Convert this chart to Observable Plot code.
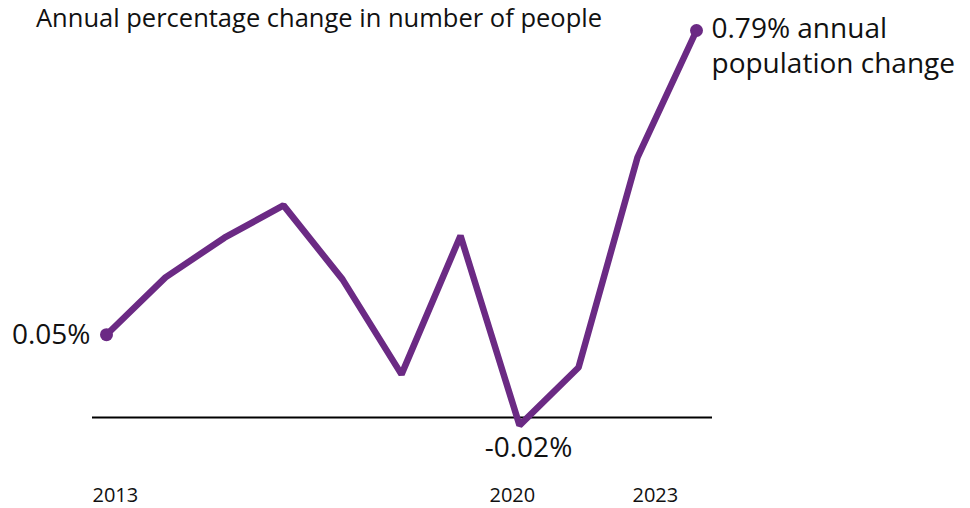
<!DOCTYPE html>
<html>
<head>
<meta charset="utf-8">
<script src="https://cdn.jsdelivr.net/npm/d3@7"></script>
<script src="https://cdn.jsdelivr.net/npm/@observablehq/plot@0.6"></script>
<style>
  html, body { margin: 0; padding: 0; background: #fff; }
  #wrap { position: relative; width: 970px; height: 508px; font-family: "Open Sans", sans-serif; }
  #title { position: absolute; left: 36px; top: 5px; font-size: 25.5px; line-height: 1; color: #111; white-space: nowrap; z-index: 2; }
</style>
</head>
<body>
<div id="wrap">
  <div id="title">Annual percentage change in number of people</div>
  <div id="chart"></div>
</div>
<script>
const years = [2013, 2014, 2015, 2016, 2017, 2018, 2019, 2020, 2021, 2022, 2023];
const change = [0.169, 0.286, 0.367, 0.433, 0.282, 0.088, 0.371, -0.016, 0.102, 0.531, 0.79];
const tickYears = [2013, 2020, 2023];
const tickLabels = ["2013", "2020", "2023"];
const startLabel = "0.05%";
const minLabel = "-0.02%";
const endLabel = "0.79% annual\npopulation change";

const data = years.map((y, i) => ({year: y, value: change[i]}));
const first = data[0];
const last = data[data.length - 1];
const minPt = data.reduce((a, b) => (b.value < a.value ? b : a));
const ticks = tickYears.map((y, i) => ({year: y, label: tickLabels[i]}));

const color = "#6b2a84";
const font = "Open Sans, sans-serif";

const plot = Plot.plot({
  width: 970,
  height: 508,
  marginLeft: 106,
  marginRight: 274,
  marginTop: 30,
  marginBottom: 91,
  x: {domain: [2013, 2023], axis: null},
  y: {domain: [0, 0.79], axis: null},
  style: {fontFamily: font, color: "#111", background: "#fff", overflow: "visible"},
  marks: [
    Plot.ruleY([0], {stroke: "#000", strokeWidth: 2, insetLeft: -14, insetRight: -16}),
    Plot.line(data, {x: "year", y: "value", stroke: color, strokeWidth: 6.5, strokeLinejoin: "miter", strokeLinecap: "butt"}),
    Plot.dot([first, last], {x: "year", y: "value", r: 6.5, fill: color}),
    Plot.text([first], {x: "year", y: "value", text: () => startLabel, textAnchor: "end", dx: -16, fontSize: 28, fill: "#111"}),
    Plot.text([minPt], {x: "year", y: "value", text: () => minLabel, textAnchor: "middle", dx: 9, dy: 23, fontSize: 28, fill: "#111"}),
    Plot.text([last], {x: "year", y: "value", text: () => endLabel, textAnchor: "start", lineAnchor: "top", dx: 15, dy: -18, fontSize: 28, lineHeight: 1.27, fill: "#111"}),
    Plot.text(ticks.filter(d => d.year === 2013), {x: "year", y: 0, text: "label", textAnchor: "start", dx: -14, dy: 78, fontSize: 20, fill: "#111"}),
    Plot.text(ticks.filter(d => d.year === 2020), {x: "year", y: 0, text: "label", textAnchor: "start", dx: -30, dy: 78, fontSize: 20, fill: "#111"}),
    Plot.text(ticks.filter(d => d.year === 2023), {x: "year", y: 0, text: "label", textAnchor: "start", dx: -64, dy: 78, fontSize: 20, fill: "#111"})
  ]
});
document.getElementById("chart").appendChild(plot);
</script>
</body>
</html>
